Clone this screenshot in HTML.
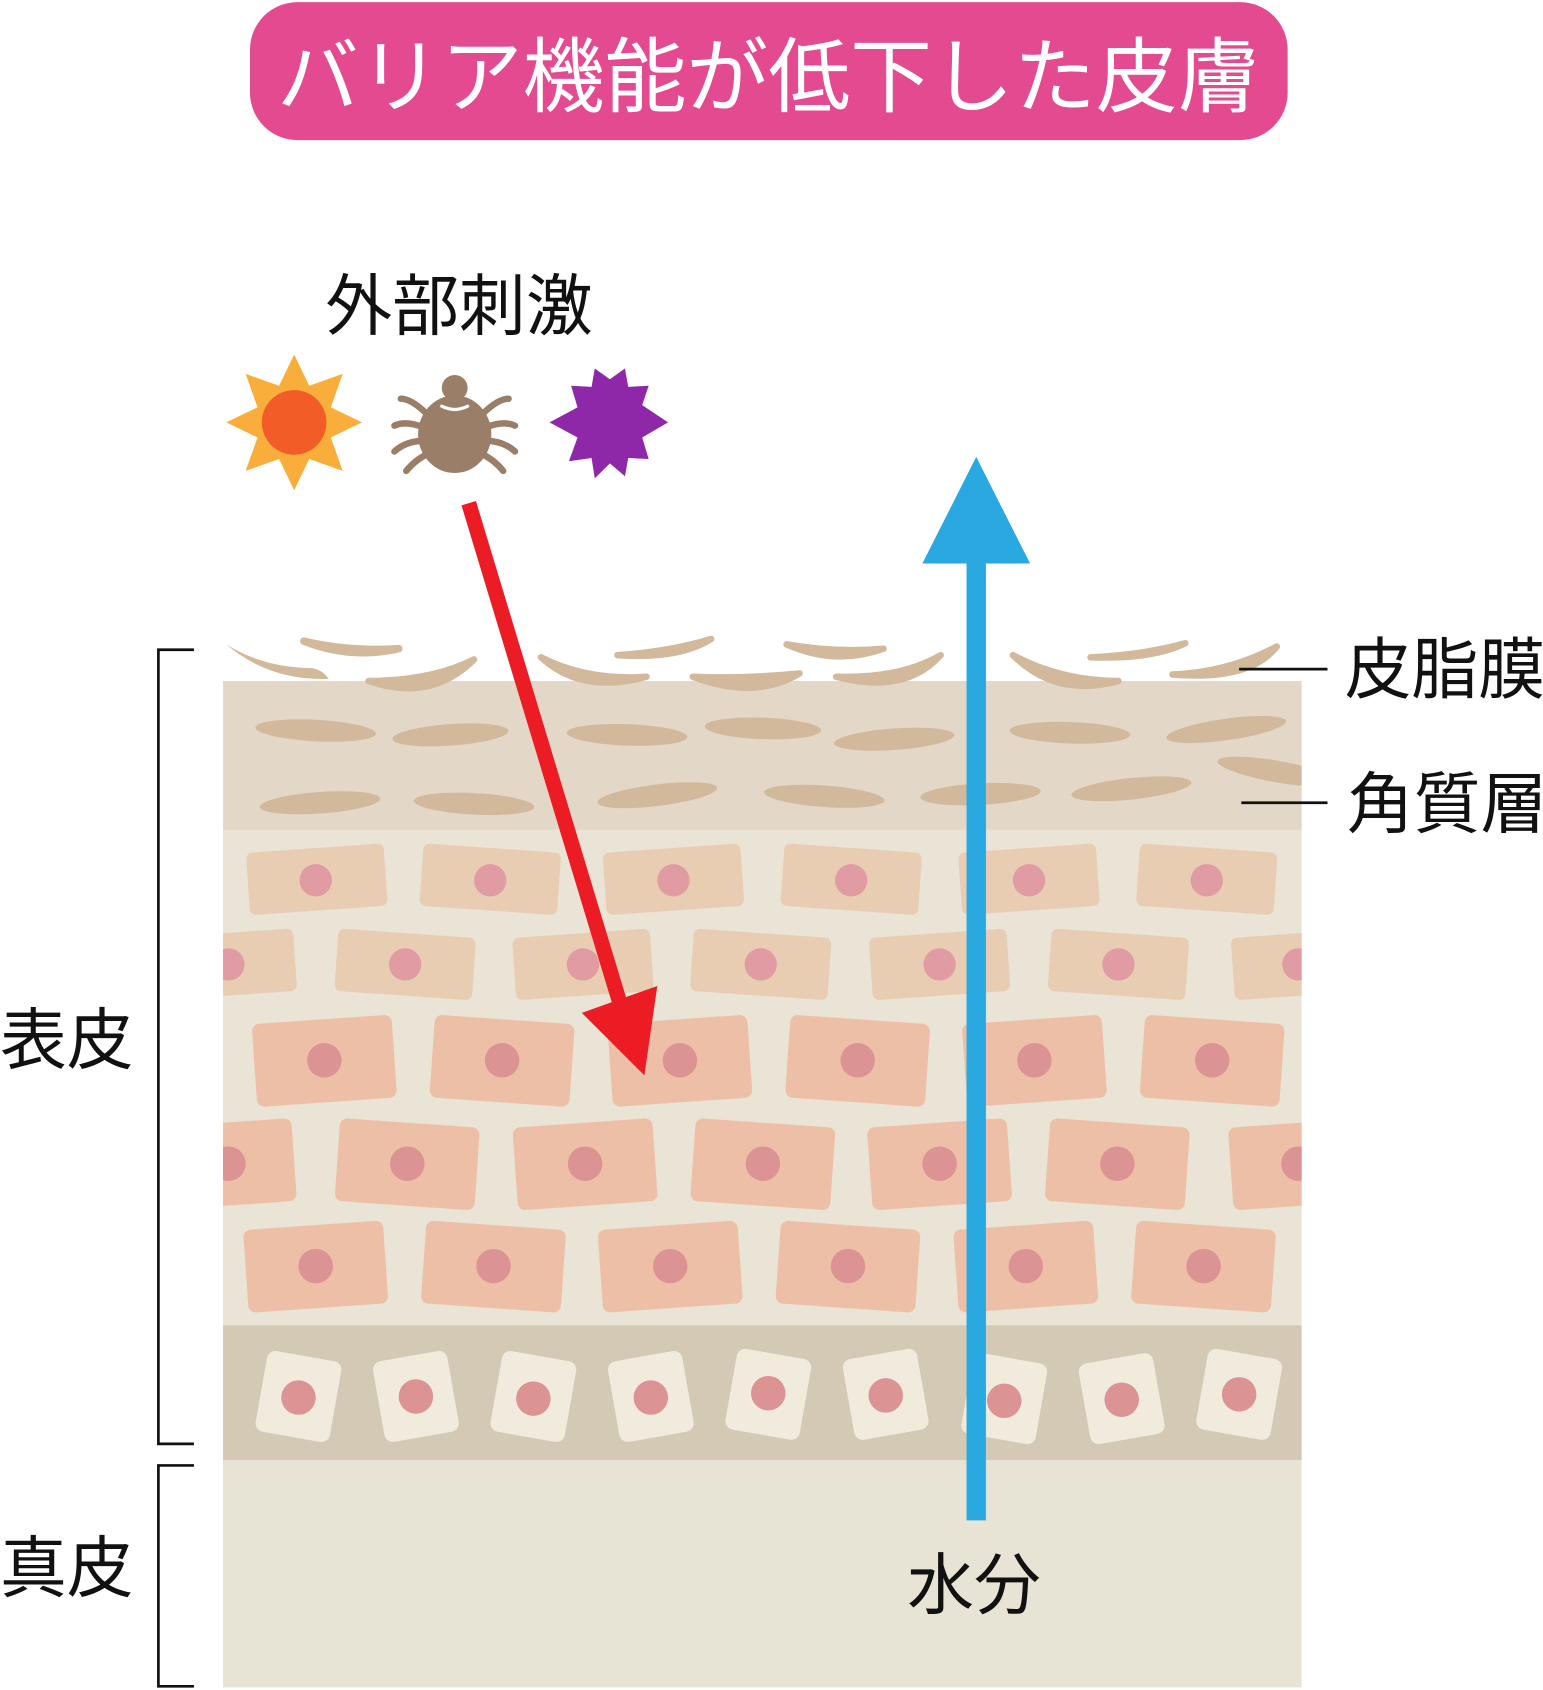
<!DOCTYPE html>
<html><head><meta charset="utf-8"><style>
html,body{margin:0;padding:0;background:#fff}
svg{display:block}
text{font-family:"Liberation Sans","Noto Sans CJK JP",sans-serif}
</style></head><body>
<svg width="1543" height="1690" viewBox="0 0 1432 1568.4" xmlns="http://www.w3.org/2000/svg">
<defs><clipPath id="sk"><rect x="207" y="632" width="1001" height="934"/></clipPath></defs>
<!-- title -->
<rect x="232" y="2" width="963" height="128" rx="44" fill="#e44a8f"/>
<text x="713" y="98" text-anchor="middle" font-size="76" fill="#fff">バリア機能が低下した皮膚</text>
<!-- skin layers -->
<rect x="207" y="632" width="1001" height="139" fill="#e3d8c8"/>
<rect x="207" y="770" width="1001" height="461" fill="#e9e4d6"/>
<rect x="207" y="1230" width="1001" height="126" fill="#d3c9b4"/>
<rect x="207" y="1355" width="1001" height="211" fill="#e8e4d5"/>
<g clip-path="url(#sk)">
<g fill="#d2b99c">
<ellipse cx="293" cy="678" rx="56" ry="10" transform="rotate(3 293 678)"/>
<ellipse cx="418" cy="682" rx="54" ry="10" transform="rotate(-4 418 682)"/>
<ellipse cx="582" cy="682" rx="56" ry="10" transform="rotate(2 582 682)"/>
<ellipse cx="708" cy="676" rx="54" ry="10" transform="rotate(2 708 676)"/>
<ellipse cx="830" cy="686" rx="56" ry="10" transform="rotate(-4 830 686)"/>
<ellipse cx="993" cy="680" rx="56" ry="10" transform="rotate(2 993 680)"/>
<ellipse cx="1138" cy="677" rx="56" ry="10" transform="rotate(-8 1138 677)"/>
<ellipse cx="297" cy="745" rx="56" ry="10" transform="rotate(-4 297 745)"/>
<ellipse cx="440" cy="746" rx="56" ry="10" transform="rotate(3 440 746)"/>
<ellipse cx="610" cy="738" rx="56" ry="10" transform="rotate(-7 610 738)"/>
<ellipse cx="765" cy="739" rx="56" ry="10" transform="rotate(4 765 739)"/>
<ellipse cx="910" cy="737" rx="56" ry="10" transform="rotate(-3 910 737)"/>
<ellipse cx="1050" cy="732" rx="56" ry="10" transform="rotate(-6 1050 732)"/>
<ellipse cx="1185" cy="716" rx="56" ry="10" transform="rotate(10 1185 716)"/>
</g>
<!-- rows -->
<g>
<g fill="#e9cdb3">
<rect x="230" y="787" width="128" height="58" rx="6" transform="rotate(-4 294 816)"/>
<rect x="391" y="787" width="128" height="58" rx="6" transform="rotate(4 455 816)"/>
<rect x="561" y="787" width="128" height="58" rx="6" transform="rotate(-4 625 816)"/>
<rect x="726" y="787" width="128" height="58" rx="6" transform="rotate(4 790 816)"/>
<rect x="891" y="787" width="128" height="58" rx="6" transform="rotate(-4 955 816)"/>
<rect x="1056" y="787" width="128" height="58" rx="6" transform="rotate(4 1120 816)"/>
<rect x="146" y="866" width="128" height="58" rx="6" transform="rotate(-4 210 895)"/>
<rect x="312" y="866" width="128" height="58" rx="6" transform="rotate(4 376 895)"/>
<rect x="477" y="866" width="128" height="58" rx="6" transform="rotate(-4 541 895)"/>
<rect x="642" y="866" width="128" height="58" rx="6" transform="rotate(4 706 895)"/>
<rect x="808" y="866" width="128" height="58" rx="6" transform="rotate(-4 872 895)"/>
<rect x="974" y="866" width="128" height="58" rx="6" transform="rotate(4 1038 895)"/>
<rect x="1144" y="866" width="128" height="58" rx="6" transform="rotate(-4 1208 895)"/>
</g>
<g fill="#e09ba3">
<circle cx="293" cy="817" r="15"/><circle cx="455" cy="817" r="15"/><circle cx="625" cy="817" r="15"/><circle cx="790" cy="817" r="15"/><circle cx="955" cy="817" r="15"/><circle cx="1120" cy="817" r="15"/>
<circle cx="212" cy="895" r="15"/><circle cx="376" cy="895" r="15"/><circle cx="541" cy="895" r="15"/><circle cx="706" cy="895" r="15"/><circle cx="872" cy="895" r="15"/><circle cx="1038" cy="895" r="15"/><circle cx="1205" cy="895" r="15"/>
</g>
<g fill="#eebfa7">
<rect x="236" y="946" width="130" height="77" rx="7" transform="rotate(-4 301 984)"/>
<rect x="401" y="946" width="130" height="77" rx="7" transform="rotate(4 466 984)"/>
<rect x="566" y="946" width="130" height="77" rx="7" transform="rotate(-4 631 984)"/>
<rect x="731" y="946" width="130" height="77" rx="7" transform="rotate(4 796 984)"/>
<rect x="895" y="946" width="130" height="77" rx="7" transform="rotate(-4 960 984)"/>
<rect x="1060" y="946" width="130" height="77" rx="7" transform="rotate(4 1125 984)"/>
<rect x="143" y="1042" width="130" height="77" rx="7" transform="rotate(-4 208 1080)"/>
<rect x="313" y="1042" width="130" height="77" rx="7" transform="rotate(4 378 1080)"/>
<rect x="478" y="1042" width="130" height="77" rx="7" transform="rotate(-4 543 1080)"/>
<rect x="643" y="1042" width="130" height="77" rx="7" transform="rotate(4 708 1080)"/>
<rect x="807" y="1042" width="130" height="77" rx="7" transform="rotate(-4 872 1080)"/>
<rect x="972" y="1042" width="130" height="77" rx="7" transform="rotate(4 1037 1080)"/>
<rect x="1142" y="1042" width="130" height="77" rx="7" transform="rotate(-4 1207 1080)"/>
<rect x="228" y="1137" width="130" height="77" rx="7" transform="rotate(-4 293 1175)"/>
<rect x="393" y="1137" width="130" height="77" rx="7" transform="rotate(4 458 1175)"/>
<rect x="557" y="1137" width="130" height="77" rx="7" transform="rotate(-4 622 1175)"/>
<rect x="722" y="1137" width="130" height="77" rx="7" transform="rotate(4 787 1175)"/>
<rect x="887" y="1137" width="130" height="77" rx="7" transform="rotate(-4 952 1175)"/>
<rect x="1052" y="1137" width="130" height="77" rx="7" transform="rotate(4 1117 1175)"/>
</g>
<g fill="#db9393">
<circle cx="301" cy="984" r="16"/><circle cx="466" cy="984" r="16"/><circle cx="631" cy="984" r="16"/><circle cx="796" cy="984" r="16"/><circle cx="960" cy="984" r="16"/><circle cx="1125" cy="984" r="16"/>
<circle cx="212" cy="1080" r="16"/><circle cx="378" cy="1080" r="16"/><circle cx="543" cy="1080" r="16"/><circle cx="708" cy="1080" r="16"/><circle cx="872" cy="1080" r="16"/><circle cx="1037" cy="1080" r="16"/><circle cx="1205" cy="1080" r="16"/>
<circle cx="293" cy="1175" r="16"/><circle cx="458" cy="1175" r="16"/><circle cx="622" cy="1175" r="16"/><circle cx="787" cy="1175" r="16"/><circle cx="952" cy="1175" r="16"/><circle cx="1117" cy="1175" r="16"/>
</g>
<!-- basal -->
<g fill="#f1ebde">
<rect x="242" y="1258" width="70" height="76" rx="8" transform="rotate(10 277 1296)"/>
<rect x="351" y="1258" width="70" height="76" rx="8" transform="rotate(-10 386 1296)"/>
<rect x="460" y="1258" width="70" height="76" rx="8" transform="rotate(10 495 1296)"/>
<rect x="569" y="1258" width="70" height="76" rx="8" transform="rotate(-10 604 1296)"/>
<rect x="678" y="1256" width="70" height="76" rx="8" transform="rotate(10 713 1294)"/>
<rect x="787" y="1256" width="70" height="76" rx="8" transform="rotate(-10 822 1294)"/>
<rect x="897" y="1260" width="70" height="76" rx="8" transform="rotate(10 932 1298)"/>
<rect x="1006" y="1260" width="70" height="76" rx="8" transform="rotate(-10 1041 1298)"/>
<rect x="1115" y="1256" width="70" height="76" rx="8" transform="rotate(10 1150 1294)"/>
</g>
<g fill="#db9393">
<circle cx="277" cy="1297" r="16"/><circle cx="386" cy="1296" r="16"/><circle cx="495" cy="1298" r="16"/><circle cx="604" cy="1297" r="16"/><circle cx="713" cy="1293" r="16"/><circle cx="822" cy="1295" r="16"/><circle cx="932" cy="1300" r="16"/><circle cx="1041" cy="1299" r="16"/><circle cx="1150" cy="1294" r="16"/>
</g>
</g>
</g>
<!-- sebum flakes -->
<g fill="#d2b99c">
<path d="M210 598 Q250 632 305 630 Q300 622 290 620 Q245 620 210 598Z"/>
<path d="M282 595 Q325 612 370 602 Q325 605 282 595Z" stroke="#d2b99c" stroke-width="7" stroke-linejoin="round"/>
<path d="M342 632 Q400 652 440 612 Q400 632 342 632Z" stroke="#d2b99c" stroke-width="6" stroke-linejoin="round"/>
<path d="M502 610 Q540 645 600 628 Q545 632 502 610Z" stroke="#d2b99c" stroke-width="6" stroke-linejoin="round"/>
<path d="M573 608 Q630 612 660 593 Q620 605 573 608Z" stroke="#d2b99c" stroke-width="6" stroke-linejoin="round"/>
<path d="M643 628 Q700 650 742 625 Q690 630 643 628Z" stroke="#d2b99c" stroke-width="6" stroke-linejoin="round"/>
<path d="M730 598 Q775 618 820 602 Q775 606 730 598Z" stroke="#d2b99c" stroke-width="6" stroke-linejoin="round"/>
<path d="M776 628 Q840 645 873 608 Q835 630 776 628Z" stroke="#d2b99c" stroke-width="6" stroke-linejoin="round"/>
<path d="M940 608 Q980 648 1038 632 Q985 632 940 608Z" stroke="#d2b99c" stroke-width="6" stroke-linejoin="round"/>
<path d="M1012 610 Q1070 612 1100 597 Q1060 608 1012 610Z" stroke="#d2b99c" stroke-width="6" stroke-linejoin="round"/>
<path d="M1088 626 Q1160 632 1185 600 Q1140 624 1088 626Z" stroke="#d2b99c" stroke-width="6" stroke-linejoin="round"/>
</g>
<!-- brackets -->
<g fill="none" stroke="#111" stroke-width="2.5">
<path d="M180 603 H147 V1340 H180"/>
<path d="M180 1360 H147 V1565 H180"/>
<path d="M1150 621 H1232"/>
<path d="M1152 745 H1232"/>
</g>
<g font-size="62" fill="#111">
<text x="0" y="987">表皮</text>
<text x="0" y="1477">真皮</text>
<text x="1248" y="643">皮脂膜</text>
<text x="1250" y="768">角質層</text>
<text x="842" y="1493">水分</text>
<text x="302" y="306">外部刺激</text>
</g>
<!-- sun -->
<g transform="translate(273 392)">
<polygon fill="#f9ae3c" points="0,-63 14,-34 45,-45 34,-14 63,0 34,14 45,45 14,34 0,63 -14,34 -45,45 -34,14 -63,0 -34,-14 -45,-45 -14,-34"/>
<circle r="30" fill="#f15c27"/>
</g>
<!-- mite -->
<g transform="translate(422 395)" stroke="#9a7e68" stroke-width="6" fill="none" stroke-linecap="round">
<path d="M-25 -10 Q-40 -25 -50 -25"/><path d="M-28 2 Q-45 -5 -56 0"/><path d="M-28 14 Q-45 14 -56 24"/><path d="M-22 25 Q-35 30 -45 42"/>
<path d="M25 -10 Q40 -25 50 -25"/><path d="M28 2 Q45 -5 56 0"/><path d="M28 14 Q45 14 56 24"/><path d="M22 25 Q35 30 45 42"/>
<ellipse cx="0" cy="8" rx="34" ry="36" fill="#9a7e68" stroke="none"/>
<circle cx="0" cy="-35" r="12" fill="#9a7e68" stroke="none"/>
<path d="M-12 -18 Q0 -12 12 -18" stroke="#fff" stroke-width="3"/>
</g>
<!-- purple -->
<polygon transform="translate(566 392)" fill="#8e27a8" points="0,-40 14,-50 17,-33 36,-34 30,-16 54,0 30,14 36,34 17,33 14,50 0,38 -14,52 -17,33 -38,36 -30,14 -56,0 -30,-14 -36,-34 -17,-33 -14,-50"/>
<!-- red arrow -->
<line x1="435" y1="467" x2="575" y2="930" stroke="#ec1c24" stroke-width="14"/>
<polygon fill="#ec1c24" points="598,998 540,940 610,915"/>
<!-- blue arrow -->
<rect x="897" y="515" width="18" height="896" fill="#29a9e0"/>
<polygon fill="#29a9e0" points="906,424 856,523 956,523"/>
</svg>
</body></html>
